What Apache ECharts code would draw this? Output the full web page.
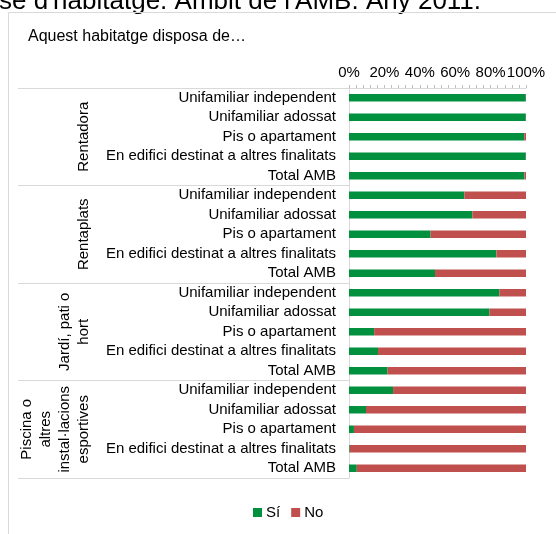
<!DOCTYPE html>
<html>
<head>
<meta charset="utf-8">
<script src="https://cdn.jsdelivr.net/npm/echarts@6/dist/echarts.min.js"></script>
<style>
  html, body { margin: 0; padding: 0; background: #fff; }
  #chart { width: 556px; height: 534px; }
</style>
</head>
<body>
<div id="chart"></div>
<script>
  'use strict';

  var categories = [
    'Unifamiliar independent', 'Unifamiliar adossat', 'Pis o apartament', 'En edifici destinat a altres finalitats', 'Total AMB',
    'Unifamiliar independent ', 'Unifamiliar adossat ', 'Pis o apartament ', 'En edifici destinat a altres finalitats ', 'Total AMB ',
    'Unifamiliar independent  ', 'Unifamiliar adossat  ', 'Pis o apartament  ', 'En edifici destinat a altres finalitats  ', 'Total AMB  ',
    'Unifamiliar independent   ', 'Unifamiliar adossat   ', 'Pis o apartament   ', 'En edifici destinat a altres finalitats   ', 'Total AMB   '
  ];
  var groups = ['Rentadora', 'Rentaplats', 'Jardí, pati o\nhort', 'Piscina o\naltres\ninstal·lacions\nesportives'];

  // % de llars (Sí / No)
  var si = [99.9, 99.9, 99.0, 99.9, 99.1, 65.2, 69.7, 46.1, 83.3, 48.6, 85.0, 79.4, 14.2, 16.4, 21.8, 24.9, 9.6, 2.8, 0.4, 4.4];
  var no = [0.1, 0.1, 1.0, 0.1, 0.9, 34.8, 30.3, 53.9, 16.7, 51.4, 15.0, 20.6, 85.8, 83.6, 78.2, 75.1, 90.4, 97.2, 99.6, 95.6];

  var font = 'Liberation Sans, Arial, sans-serif';
  var gris = '#d9d9d9';

  var myChart = echarts.init(document.getElementById('chart'));

  var option = {
    animation: false,
    textStyle: { fontFamily: font },
    title: {
      text: 'Aquest habitatge disposa de…',
      left: 28,
      top: 29,
      padding: 0,
      textStyle: { fontSize: 16, fontWeight: 'normal', color: '#000', fontFamily: font }
    },
    graphic: [
      {
        type: 'text',
        style: { x: -1, y: -11, text: "se d'habitatge. Àmbit de l'AMB. Any 2011.", font: '26px ' + font, fill: '#000', textVerticalAlign: 'top' }
      },
      {
        type: 'polyline',
        shape: { points: [[8.5, 534], [8.5, 12.5], [556, 12.5]] },
        style: { stroke: gris, lineWidth: 1, fill: null }
      }
    ],
    legend: {
      data: ['Sí', 'No'],
      left: 253,
      top: 505,
      padding: 0,
      icon: 'rect',
      itemWidth: 9,
      itemHeight: 9,
      itemGap: 11,
      textStyle: { fontSize: 15, color: '#000', fontFamily: font, padding: [0, 0, 0, -1] }
    },
    grid: { left: 349, right: 30, top: 88, bottom: 56, containLabel: false },
    xAxis: {
      type: 'value',
      position: 'top',
      min: 0,
      max: 100,
      interval: 20,
      axisLine: { show: true, lineStyle: { color: gris } },
      axisTick: { show: true, length: 3, lineStyle: { color: '#bfbfbf' } },
      minorTick: { show: true, splitNumber: 5, length: 3, lineStyle: { color: '#bfbfbf' } },
      splitLine: { show: false },
      axisLabel: { formatter: '{value}%', fontSize: 15, color: '#000', margin: 8, fontFamily: font }
    },
    yAxis: [
      {
        type: 'category',
        inverse: true,
        data: categories,
        axisLine: { show: true, lineStyle: { color: gris } },
        axisTick: { show: false },
        axisLabel: {
          interval: 0, fontSize: 15, color: '#000', margin: 13, fontFamily: font,
          formatter: function (v) { return v.trim(); }
        }
      },
      {
        type: 'category',
        inverse: true,
        position: 'left',
        data: groups,
        axisLine: { show: false },
        axisTick: { show: true, length: 331, interval: 0, lineStyle: { color: gris } },
        axisLabel: {
          rotate: 90, margin: 256, fontSize: 15, lineHeight: 19, color: '#000', fontFamily: font, align: 'center', interval: 0
        }
      }
    ],
    series: [
      {
        name: 'Sí',
        type: 'bar',
        stack: 'total',
        yAxisIndex: 0,
        barWidth: 7.5,
        itemStyle: { color: '#00903e' },
        data: si
      },
      {
        name: 'No',
        type: 'bar',
        stack: 'total',
        yAxisIndex: 0,
        barWidth: 7.5,
        itemStyle: { color: '#c0504d' },
        data: no
      }
    ]
  };

  myChart.setOption(option);
</script>
</body>
</html>
